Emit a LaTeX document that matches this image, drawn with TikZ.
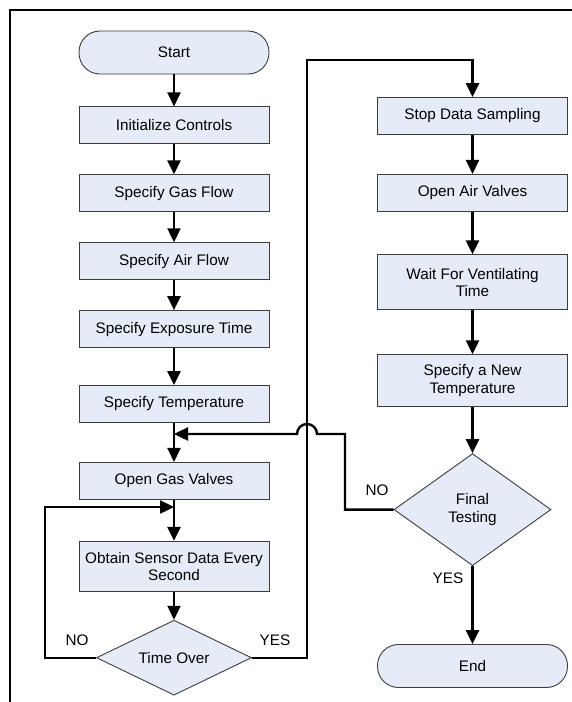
\documentclass[tikz,border=0pt]{standalone}
\usepackage{fontspec}
\setmainfont{Liberation Sans}
\usetikzlibrary{arrows.meta,positioning,shapes.geometric,calc}
\definecolor{boxfill}{HTML}{E6ECF7}
\definecolor{boxline}{HTML}{3C3C3C}
\newcommand{\flowfont}{\fontsize{15.3}{17.5}\selectfont}
\tikzset{
  stepbox/.style = {rectangle, draw=boxline, fill=boxfill, line width=0.9pt,
                    align=center, minimum width=190pt, minimum height=37pt,
                    inner sep=2pt, font=\flowfont},
  termbox/.style = {stepbox, rounded corners=21pt, minimum height=43pt},
  decide/.style  = {diamond, draw=boxline, fill=boxfill, line width=0.9pt,
                    align=center, inner sep=0pt, aspect=2, font=\flowfont},
  flow/.style    = {-{Triangle[length=14pt,width=13pt]}, line width=2.4pt},
  wire/.style    = {line width=2.4pt},
  lbl/.style     = {font=\flowfont, inner sep=0pt},
}
\begin{document}
\begin{tikzpicture}[x=1pt,y=-1pt]
  \useasboundingbox (0,0) rectangle (572,702);
  % frame
  \draw[line width=2.7pt] (10,702) -- (10,10) -- (572,10);

  % left column
  \node[termbox] (start) at (174,52.5) {Start};
  \node[stepbox,below=32pt of start] (init) {Initialize Controls};
  \node[stepbox,below=30pt of init] (gas) {Specify Gas Flow};
  \node[stepbox,below=30pt of gas] (air) {Specify Air Flow};
  \node[stepbox,below=30pt of air] (expo) {Specify Exposure Time};
  \node[stepbox,below=37pt of expo] (temp) {Specify Temperature};
  \node[stepbox,below=39pt of temp] (ogas) {Open Gas Valves};
  \node[stepbox,below=41pt of ogas,minimum height=50pt] (obtain) {Obtain Sensor Data Every\\Second};
  \node[decide,below=28pt of obtain,minimum width=155pt,minimum height=75pt] (tover) {Time Over};

  % right column
  \node[stepbox] (stop) at (472.5,116) {Stop Data Sampling};
  \node[stepbox,below=39pt of stop] (oair) {Open Air Valves};
  \node[stepbox,below=42.5pt of oair,minimum height=55pt] (wait) {Wait For Ventilating\\Time};
  \node[stepbox,below=44pt of wait,minimum height=52pt] (newt) {Specify a New\\Temperature};
  \node[decide,below=46pt of newt,minimum width=157pt,minimum height=112pt] (ftest) {Final\\Testing};
  \node[termbox,below=78pt of ftest] (end) {End};

  \coordinate (merge) at (174,434);
  \coordinate (hopc) at (307,434);
  \coordinate (loopin) at (174,507);

  % straight arrows
  \draw[flow] (start) -- (init);
  \draw[flow] (init) -- (gas);
  \draw[flow] (gas) -- (air);
  \draw[flow] (air) -- (expo);
  \draw[flow] (expo) -- (temp);
  \draw[flow] (temp) -- (ogas);
  \draw[flow] (ogas) -- (obtain);
  \draw[flow] (obtain) -- (tover);
  \draw[flow] (stop) -- (oair);
  \draw[flow] (oair) -- (wait);
  \draw[flow] (wait) -- (newt);
  \draw[flow] (newt) -- (ftest);
  \draw[flow] (ftest) -- (end);

  % branches
  \draw[flow] (tover.west) -| (45,507) -- (loopin);
  \draw[flow] (tover.east) -| (307,60) -| (stop.north);
  \draw[flow] (ftest.west) -| (345,434) -- ($(hopc)+(10pt,0)$)
    arc[start angle=0,end angle=180,radius=10pt] -- (merge);

  \node[lbl] (no1) at (77,640) {NO};
  \node[lbl] (yes1) at (275,640) {YES};
  \node[lbl] (no2) at (377,490) {NO};
  \node[lbl] (yes2) at (448,578) {YES};
\end{tikzpicture}
\end{document}
